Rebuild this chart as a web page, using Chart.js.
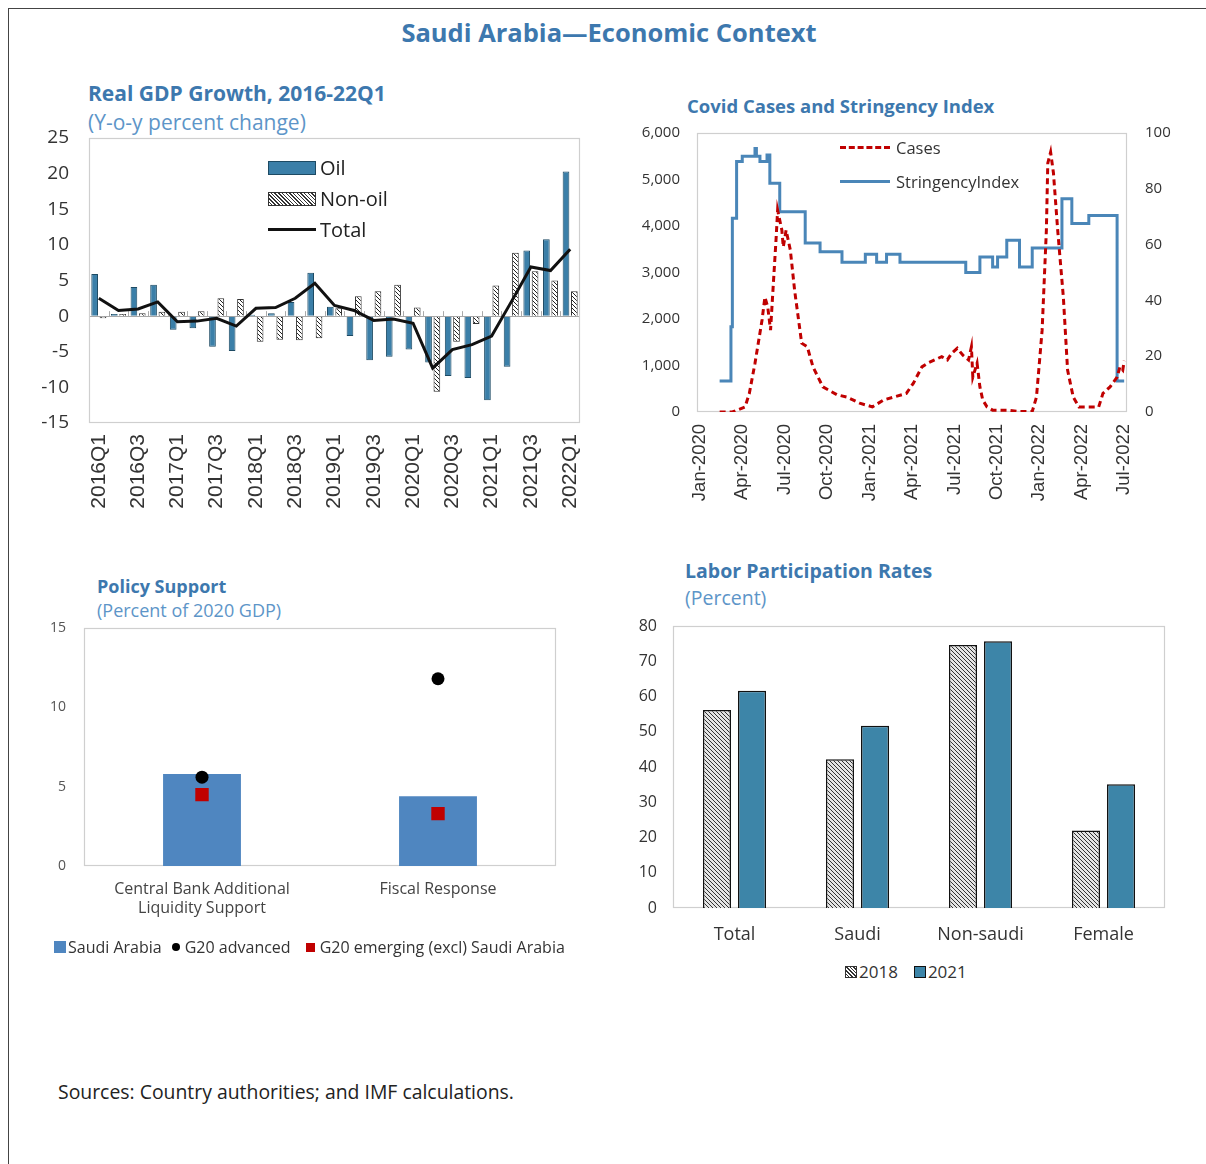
<!DOCTYPE html>
<html>
<head>
<meta charset="utf-8">
<script src="https://cdn.jsdelivr.net/npm/chart.js@4.4.1/dist/chart.umd.min.js"></script>
<style>
  body { margin: 0; background: #fff; font-family: "Open Sans", sans-serif; }
  #page { position: relative; width: 1206px; height: 1164px; overflow: hidden; }
  #frame { position: absolute; left: 8px; top: 8px; width: 1210px; height: 1170px; border-top: 1.5px solid #444; border-left: 1.5px solid #444; }
  .abs { position: absolute; white-space: nowrap; line-height: 1.2; }
  .title { font-weight: 700; color: #3d78ae; }
  .sub { color: #5d95c8; }
  canvas { position: absolute; }
  .lg { position: absolute; display: flex; align-items: center; white-space: nowrap; }
  .hatchSw { background: repeating-linear-gradient(45deg, #fff 0 1.6px, #333 1.6px 2.6px); border: 1px solid #333; box-sizing: border-box; }
</style>
</head>
<body>
<div id="page">
  <div id="frame"></div>

  <div class="abs title" style="left:0;width:1218px;text-align:center;top:17px;font-size:25.5px;">Saudi Arabia—Economic Context</div>

  <div class="abs title" style="left:88px;top:81px;font-size:21px;">Real GDP Growth, 2016-22Q1</div>
  <div class="abs sub" style="left:88px;top:110px;font-size:21px;">(Y-o-y percent change)</div>
  <canvas id="gdpChart" width="575" height="395" style="left:20px;top:128px;"></canvas>

  <div class="abs title" style="left:687px;top:95px;font-size:18.5px;">Covid Cases and Stringency Index</div>
  <canvas id="covidChart" width="560" height="392" style="left:620px;top:120px;"></canvas>

  <div class="abs title" style="left:97px;top:576px;font-size:18px;">Policy Support</div>
  <div class="abs sub" style="left:97px;top:600px;font-size:18px;">(Percent of 2020 GDP)</div>
  <canvas id="policyChart" width="540" height="320" style="left:30px;top:618px;"></canvas>

  <div class="abs title" style="left:685px;top:559px;font-size:19.5px;">Labor Participation Rates</div>
  <div class="abs sub" style="left:685px;top:586px;font-size:19.5px;">(Percent)</div>
  <canvas id="laborChart" width="560" height="345" style="left:620px;top:615px;"></canvas>

  <div class="abs" style="left:58px;top:1080px;font-size:19.4px;color:#222;">Sources: Country authorities; and IMF calculations.</div>

  <!-- legends -->
  <div class="lg" style="left:268px;top:154px;font-size:20px;color:#222;">
    <span style="width:48px;height:14px;background:#3b7fa8;border:1px solid #1d4a63;box-sizing:border-box;margin-right:4px;"></span>Oil
  </div>
  <div class="lg" style="left:268px;top:185px;font-size:20px;color:#222;">
    <span class="hatchSw" style="width:48px;height:14px;margin-right:4px;"></span>Non-oil
  </div>
  <div class="lg" style="left:268px;top:216px;font-size:20px;color:#222;">
    <span style="width:48px;height:3px;background:#111;margin-right:4px;"></span>Total
  </div>

  <div class="lg" style="left:840px;top:136px;font-size:16.5px;color:#333;">
    <span style="width:50px;height:0;border-top:3px dashed #c00000;margin-right:6px;"></span>Cases
  </div>
  <div class="lg" style="left:840px;top:170px;font-size:16.5px;color:#333;">
    <span style="width:50px;height:3px;background:#4a86b8;margin-right:6px;"></span>StringencyIndex
  </div>

  <div class="lg" style="left:54px;top:936px;font-size:16px;color:#333;">
    <span style="width:12px;height:12px;background:#4f86c0;margin-right:2px;"></span>Saudi Arabia
    <span style="width:8px;height:8px;border-radius:50%;background:#000;margin:0 5px 0 10px;"></span>G20 advanced
    <span style="width:9px;height:9px;background:#c00000;margin:0 5px 0 15px;"></span>G20 emerging (excl) Saudi Arabia
  </div>

  <div class="lg" style="left:845px;top:960px;font-size:17px;color:#333;">
    <span class="hatchSw" style="width:12px;height:12px;background-color:#ddd;margin-right:2px;"></span>2018
    <span style="width:12px;height:12px;background:#3d85a8;border:1px solid #111;box-sizing:border-box;margin:0 2px 0 16px;"></span>2021
  </div>
</div>

<script>
// ---- Real GDP growth (y-o-y %) ----
const gdpQuarters = ["2016Q1","2016Q2","2016Q3","2016Q4","2017Q1","2017Q2","2017Q3","2017Q4",
  "2018Q1","2018Q2","2018Q3","2018Q4","2019Q1","2019Q2","2019Q3","2019Q4",
  "2020Q1","2020Q2","2020Q3","2020Q4","2021Q1","2021Q2","2021Q3","2021Q4","2022Q1"];
const gdpOil = [5.9, 0.3, 4.1, 4.4, -1.9, -1.7, -4.3, -4.9, 0.2, 0.4, 2.0, 6.1, 1.3,
  -2.8, -6.2, -5.7, -4.7, -6.5, -8.4, -8.7, -11.8, -7.1, 9.2, 10.8, 20.3];
const gdpNonOil = [-0.3, 0.3, 0.4, 0.6, 0.6, 0.7, 2.5, 2.4, -3.6, -3.3, -3.4, -3.1, 1.1,
  2.8, 3.5, 4.4, 1.2, -10.6, -3.6, -1.1, 4.3, 8.9, 6.3, 5.0, 3.5];
const gdpTotal = [2.5, 0.8, 1.0, 2.0, -0.8, -0.7, -0.3, -1.4, 1.1, 1.2, 2.5, 4.6, 1.5,
  0.8, -0.6, -0.4, -1.0, -7.3, -4.7, -4.0, -2.8, 2.0, 6.9, 6.4, 9.4];

// ---- Covid cases and stringency (x = months since Jan-2020) ----
const covidTickMonths = [0, 3, 6, 9, 12, 15, 18, 21, 24, 27, 30];
const covidTickLabels = ["Jan-2020","Apr-2020","Jul-2020","Oct-2020","Jan-2021","Apr-2021",
  "Jul-2021","Oct-2021","Jan-2022","Apr-2022","Jul-2022"];
const caseMonths = [1.4, 2.3, 3.2, 3.5, 3.9, 4.4, 4.6, 4.8, 5.0, 5.2, 5.4, 5.5, 5.8, 5.9, 6.1,
  6.4, 6.7, 7.2, 7.6, 8.0, 8.7, 9.7, 10.4, 11.3, 12.2, 13.0, 13.7, 14.6, 15.1, 15.7, 16.1,
  16.6, 17.1, 17.5, 17.8, 18.2, 18.6, 19.0, 19.2, 19.3, 19.6, 19.8, 20.0, 20.3, 20.7, 21.7,
  22.6, 23.5, 23.8, 24.2, 24.5, 24.6, 24.8, 25.0, 25.3, 25.7, 26.0, 26.4, 26.8, 27.4, 28.2,
  28.5, 29.0, 29.5, 29.7, 29.9, 30.0];
const caseValues = [0, 0, 110, 400, 1050, 1980, 2470, 2260, 1760, 2770, 3770, 4340, 3910, 3550,
  3910, 3480, 2620, 1480, 1400, 970, 540, 370, 320, 190, 110, 260, 320, 400, 620, 970, 1050,
  1120, 1190, 1120, 1260, 1370, 1220, 1120, 1400, 750, 1050, 540, 260, 110, 40, 40, 10, 10,
  320, 1760, 3910, 5350, 5590, 5140, 3910, 2470, 900, 320, 110, 110, 110, 400, 540, 750, 970,
  900, 1100];
// each value holds from its month until the next change
const stringencyMonths = [1.4, 2.2, 2.3, 2.6, 3.0, 3.9, 4.0, 4.25, 4.75, 4.95, 5.65, 7.45, 8.5,
  10.05, 11.7, 12.5, 13.2, 14.15, 18.8, 19.8, 20.7, 21.05, 21.7, 22.6, 23.5, 25.6, 26.3, 27.5,
  29.5, 30.0];
const stringencyValues = [11.1, 30.6, 69.4, 89.8, 91.7, 94.4, 91.7, 89.8, 92.1, 82.0, 71.8, 60.6,
  57.4, 53.7, 56.5, 53.7, 56.5, 53.7, 50.0, 55.6, 52.0, 55.6, 61.6, 52.0, 58.8, 76.4, 67.6, 70.4,
  11.1, 11.1];

// ---- Policy support (% of 2020 GDP) ----
const policyCategories = [["Central Bank Additional", "Liquidity Support"], "Fiscal Response"];
const saudiSupport = [5.8, 4.4];
const g20Advanced = [5.6, 11.8];
const g20Emerging = [4.5, 3.3];

// ---- Labor participation (%) ----
const laborCategories = ["Total", "Saudi", "Non-saudi", "Female"];
const labor2018 = [56.2, 42.2, 74.6, 22.0];
const labor2021 = [61.6, 51.7, 75.7, 35.1];

Chart.defaults.font.family = "'Open Sans', sans-serif";
Chart.defaults.animation = false;
Chart.defaults.plugins.legend.display = false;
Chart.defaults.plugins.tooltip.enabled = false;

function hatch(bg, fg, size) {
  const c = document.createElement("canvas");
  c.width = size;
  c.height = size;
  const g = c.getContext("2d");
  g.fillStyle = bg;
  g.fillRect(0, 0, size, size);
  g.strokeStyle = fg;
  g.lineWidth = 1;
  g.beginPath();
  for (const k of [-size, 0, size]) {
    g.moveTo(k, 0);
    g.lineTo(k + size, size);
  }
  g.stroke();
  return g.createPattern(c, "repeat");
}

// light box round the plot area
const plotFrame = {
  id: "plotFrame",
  beforeDatasetsDraw(chart, args, opts) {
    const a = chart.chartArea;
    const ctx = chart.ctx;
    ctx.save();
    ctx.strokeStyle = opts.color || "#cfcfcf";
    ctx.lineWidth = 1.2;
    ctx.strokeRect(a.left + 0.5, a.top + 0.5, a.right - a.left - 1, a.bottom - a.top - 1);
    ctx.restore();
  }
};

// small category ticks on the GDP zero line
const zeroTicks = {
  id: "zeroTicks",
  beforeDatasetsDraw(chart) {
    if (chart.canvas.id !== "gdpChart") return;
    const a = chart.chartArea;
    const y0 = chart.scales.y.getPixelForValue(0);
    const n = gdpQuarters.length;
    const ctx = chart.ctx;
    ctx.save();
    ctx.strokeStyle = "#aaa";
    ctx.lineWidth = 1;
    ctx.beginPath();
    for (let i = 1; i < n; i++) {
      const x = Math.round(a.left + (a.right - a.left) * i / n) + 0.5;
      ctx.moveTo(x, y0);
      ctx.lineTo(x, y0 - 5);
    }
    ctx.stroke();
    ctx.restore();
  }
};

Chart.register(plotFrame, zeroTicks);

// fixed axis sizes so the plot areas land where the reference has them
const fixW = (w) => (s) => { s.width = w; s.paddingTop = 0; s.paddingBottom = 0; };
const fixH = (h) => (s) => { s.height = h; s.paddingLeft = 0; s.paddingRight = 0; };

// GDP
new Chart(document.getElementById("gdpChart"), {
  type: "bar",
  data: {
    labels: gdpQuarters,
    datasets: [
      { type: "line", label: "Total", data: gdpTotal, borderColor: "#111", borderWidth: 3,
        pointRadius: 0, tension: 0 },
      { label: "Oil", data: gdpOil, backgroundColor: "#3b7fa8", borderColor: "#1d4a63",
        borderWidth: 1, categoryPercentage: 0.85, barPercentage: 0.8 },
      { label: "Non-oil", data: gdpNonOil, backgroundColor: hatch("#fff", "#222", 4),
        borderColor: "#333", borderWidth: 1, categoryPercentage: 0.85, barPercentage: 0.8 }
    ]
  },
  options: {
    responsive: false,
    layout: { padding: { top: 10, right: 15, left: 0, bottom: 0 } },
    scales: {
      x: {
        grid: { display: false, drawTicks: false },
        border: { display: false },
        afterFit: fixH(100),
        ticks: {
          autoSkip: false, minRotation: 90, maxRotation: 90, padding: 11,
          color: "#333", font: { family: "'Liberation Sans'", size: 21 },
          callback: (v, i) => (i % 2 === 0 ? gdpQuarters[i] : "")
        }
      },
      y: {
        min: -15, max: 25,
        afterFit: fixW(69),
        border: { display: false },
        grid: { drawTicks: false, color: (c) => (c.tick && c.tick.value === 0 ? "#a8a8a8" : "transparent") },
        ticks: { stepSize: 5, padding: 20, color: "#333", font: { size: 19 } }
      }
    }
  }
});

// Covid
new Chart(document.getElementById("covidChart"), {
  type: "line",
  data: {
    datasets: [
      { label: "Cases", data: caseMonths.map((m, i) => ({ x: m, y: caseValues[i] })),
        yAxisID: "y", borderColor: "#c00000", borderWidth: 3, borderDash: [6, 4],
        pointRadius: 0, tension: 0 },
      { label: "StringencyIndex", data: stringencyMonths.map((m, i) => ({ x: m, y: stringencyValues[i] })),
        yAxisID: "y2", borderColor: "#4a86b8", borderWidth: 3, stepped: "before", pointRadius: 0 }
    ]
  },
  options: {
    responsive: false,
    layout: { padding: { top: 13, right: 0, left: 0, bottom: 0 } },
    scales: {
      x: {
        type: "linear", min: -0.2, max: 30.2,
        afterBuildTicks: (s) => { s.ticks = covidTickMonths.map((v) => ({ value: v })); },
        afterFit: fixH(100),
        grid: { display: false, drawTicks: false },
        border: { display: false },
        ticks: {
          autoSkip: false, minRotation: 90, maxRotation: 90, padding: 12,
          color: "#333", font: { family: "'Liberation Sans'", size: 18.5 },
          callback: (v) => covidTickLabels[covidTickMonths.indexOf(v)]
        }
      },
      y: {
        position: "left", min: 0, max: 6000,
        afterFit: fixW(77),
        grid: { display: false, drawTicks: false },
        border: { display: false },
        ticks: { stepSize: 1000, padding: 17, color: "#333", font: { size: 15 },
          callback: (v) => v.toLocaleString("en-US") }
      },
      y2: {
        position: "right", min: 0, max: 100,
        afterFit: fixW(53),
        grid: { display: false, drawTicks: false },
        border: { display: false },
        ticks: { stepSize: 20, padding: 18, color: "#333", font: { size: 15 } }
      }
    }
  }
});

// Policy support
new Chart(document.getElementById("policyChart"), {
  type: "bar",
  data: {
    labels: policyCategories,
    datasets: [
      { type: "line", label: "G20 advanced", data: g20Advanced, showLine: false,
        pointStyle: "circle", pointRadius: 6.5, pointBackgroundColor: "#000", pointBorderWidth: 0 },
      { type: "line", label: "G20 emerging (excl) Saudi Arabia", data: g20Emerging, showLine: false,
        pointStyle: "rect", pointRadius: 9.5, pointBackgroundColor: "#c00000", pointBorderWidth: 0 },
      { label: "Saudi Arabia", data: saudiSupport, backgroundColor: "#4f86c0",
        categoryPercentage: 1, barPercentage: 0.33 }
    ]
  },
  options: {
    responsive: false,
    layout: { padding: { top: 10, right: 14, left: 0, bottom: 0 } },
    scales: {
      x: {
        afterFit: fixH(72),
        grid: { display: false, drawTicks: false },
        border: { display: false },
        ticks: { padding: 14, color: "#444", font: { size: 16 } }
      },
      y: {
        min: 0, max: 15,
        afterFit: fixW(54),
        grid: { display: false, drawTicks: false },
        border: { display: false },
        ticks: { stepSize: 5, padding: 18, color: "#555", font: { size: 14 } }
      }
    }
  }
});

// Labor participation
new Chart(document.getElementById("laborChart"), {
  type: "bar",
  data: {
    labels: laborCategories,
    datasets: [
      { label: "2018", data: labor2018, backgroundColor: hatch("#e4e4e4", "#333", 4),
        borderColor: "#111", borderWidth: 1.5, categoryPercentage: 0.57, barPercentage: 0.8 },
      { label: "2021", data: labor2021, backgroundColor: "#3d85a8",
        borderColor: "#111", borderWidth: 1.5, categoryPercentage: 0.57, barPercentage: 0.8 }
    ]
  },
  options: {
    responsive: false,
    layout: { padding: { top: 11, right: 15, left: 0, bottom: 0 } },
    scales: {
      x: {
        afterFit: fixH(52),
        grid: { display: false, drawTicks: false },
        border: { display: false },
        ticks: { padding: 16, color: "#333", font: { size: 18 } }
      },
      y: {
        min: 0, max: 80,
        afterFit: fixW(53),
        grid: { display: false, drawTicks: false },
        border: { display: false },
        ticks: { stepSize: 10, padding: 16, color: "#333", font: { size: 16 } }
      }
    }
  }
});
</script>
</body>
</html>
